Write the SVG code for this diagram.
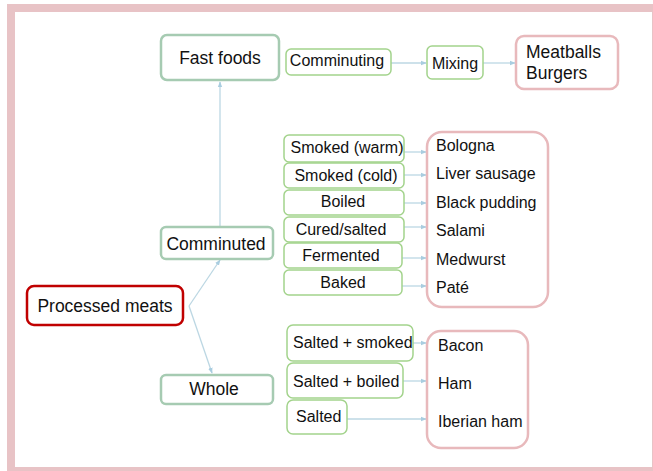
<svg xmlns="http://www.w3.org/2000/svg" width="653" height="471" viewBox="0 0 653 471">
<style>
text{font-family:"Liberation Sans",Arial,sans-serif;fill:#111;font-size:16px}
.big{font-size:17.5px}
.c{text-anchor:middle}
.l1{fill:#fff;stroke:#a6cbb2;stroke-width:2.5}
.pr{fill:#fff;stroke:#a3d38c;stroke-width:1.5}
.out{fill:#fff;stroke:#e8b9bc;stroke-width:2.5}
.root{fill:#fff;stroke:#c00000;stroke-width:2.5}
.cn{fill:none;stroke:#bcd7e3;stroke-width:1.3}
</style>
<defs>
<marker id="ah" viewBox="0 0 8 8" refX="7" refY="4" markerWidth="6" markerHeight="6" orient="auto" markerUnits="userSpaceOnUse">
<path d="M0,1 L8,4 L0,7 z" fill="#a9cde0"/>
</marker>
</defs>
<rect x="0" y="0" width="653" height="471" fill="#fff"/>
<rect x="7" y="4" width="646" height="467" fill="#e8c3c6"/>
<rect x="15" y="12" width="637" height="455" fill="#fff"/>

<g id="connectors">
<line class="cn" x1="220" y1="227" x2="220" y2="82" marker-end="url(#ah)"/>
<line class="cn" x1="189" y1="306" x2="220" y2="260" marker-end="url(#ah)"/>
<line class="cn" x1="189" y1="306" x2="212" y2="373" marker-end="url(#ah)"/>
<line class="cn" x1="391" y1="63" x2="426" y2="63" marker-end="url(#ah)"/>
<line class="cn" x1="483" y1="63" x2="515" y2="63" marker-end="url(#ah)"/>
<line class="cn" x1="404" y1="152" x2="426" y2="152" marker-end="url(#ah)"/>
<line class="cn" x1="404" y1="175" x2="426" y2="175" marker-end="url(#ah)"/>
<line class="cn" x1="404" y1="203" x2="426" y2="203" marker-end="url(#ah)"/>
<line class="cn" x1="404" y1="227" x2="426" y2="227" marker-end="url(#ah)"/>
<line class="cn" x1="402" y1="258" x2="426" y2="258" marker-end="url(#ah)"/>
<line class="cn" x1="402" y1="286" x2="426" y2="286" marker-end="url(#ah)"/>
<line class="cn" x1="413" y1="343" x2="426" y2="343" marker-end="url(#ah)"/>
<line class="cn" x1="403" y1="381" x2="426" y2="381" marker-end="url(#ah)"/>
<line class="cn" x1="347" y1="419" x2="426" y2="419" marker-end="url(#ah)"/>
</g>

<g id="processed-meats"><rect class="root" x="27" y="286" width="156" height="39" rx="7"/><text class="big c" x="105" y="312">Processed meats</text></g>
<g id="fast-foods"><rect class="l1" x="161" y="35" width="118" height="45" rx="6"/><text class="big c" x="220" y="64">Fast foods</text></g>
<g id="comminuted"><rect class="l1" x="161" y="227" width="112" height="32" rx="5"/><text class="big c" x="216" y="250">Comminuted</text></g>
<g id="whole"><rect class="l1" x="161" y="375" width="112" height="29" rx="5"/><text class="big c" x="214" y="395">Whole</text></g>

<g id="comminuting"><rect class="pr" x="286" y="49" width="105" height="26" rx="5"/><text class="c" x="337" y="66">Comminuting</text></g>
<g id="mixing"><rect class="pr" x="427" y="46" width="56" height="33" rx="5"/><text class="c" x="455" y="69">Mixing</text></g>
<g id="meatballs-burgers"><rect class="out" x="516" y="36" width="102" height="53" rx="8"/><text class="big" x="526" y="58">Meatballs</text><text class="big" x="526" y="79">Burgers</text></g>

<g id="smoked-warm"><rect class="pr" x="284" y="135" width="120" height="27" rx="5"/><text class="c" x="347" y="153" style="font-size:16px">Smoked (warm)</text></g>
<g id="smoked-cold"><rect class="pr" x="284" y="163" width="120" height="25" rx="5"/><text class="c" x="346" y="181" style="font-size:16px">Smoked (cold)</text></g>
<g id="boiled"><rect class="pr" x="284" y="190" width="120" height="25" rx="5"/><text class="c" x="343" y="207">Boiled</text></g>
<g id="cured-salted"><rect class="pr" x="284" y="217" width="120" height="25" rx="5"/><text class="c" x="341" y="235">Cured/salted</text></g>
<g id="fermented"><rect class="pr" x="284" y="243" width="118" height="25" rx="5"/><text class="c" x="341" y="261">Fermented</text></g>
<g id="baked"><rect class="pr" x="284" y="270" width="118" height="25" rx="5"/><text class="c" x="343" y="288">Baked</text></g>

<g id="comminuted-products"><rect class="out" x="427" y="132" width="121" height="175" rx="15"/>
<text x="436" y="151">Bologna</text>
<text x="436" y="179">Liver sausage</text>
<text x="436" y="208">Black pudding</text>
<text x="436" y="236">Salami</text>
<text x="436" y="265">Medwurst</text>
<text x="436" y="293">Paté</text></g>

<g id="salted-smoked"><rect class="pr" x="287" y="325" width="126" height="36" rx="6"/><text x="293" y="348">Salted + smoked</text></g>
<g id="salted-boiled"><rect class="pr" x="287" y="363" width="116" height="35" rx="6"/><text x="293" y="387">Salted + boiled</text></g>
<g id="salted"><rect class="pr" x="287" y="400" width="60" height="34" rx="6"/><text x="296" y="422">Salted</text></g>

<g id="whole-products"><rect class="out" x="427" y="331" width="101" height="117" rx="14"/>
<text x="438" y="351">Bacon</text>
<text x="438" y="389">Ham</text>
<text x="438" y="427">Iberian ham</text></g>
</svg>
